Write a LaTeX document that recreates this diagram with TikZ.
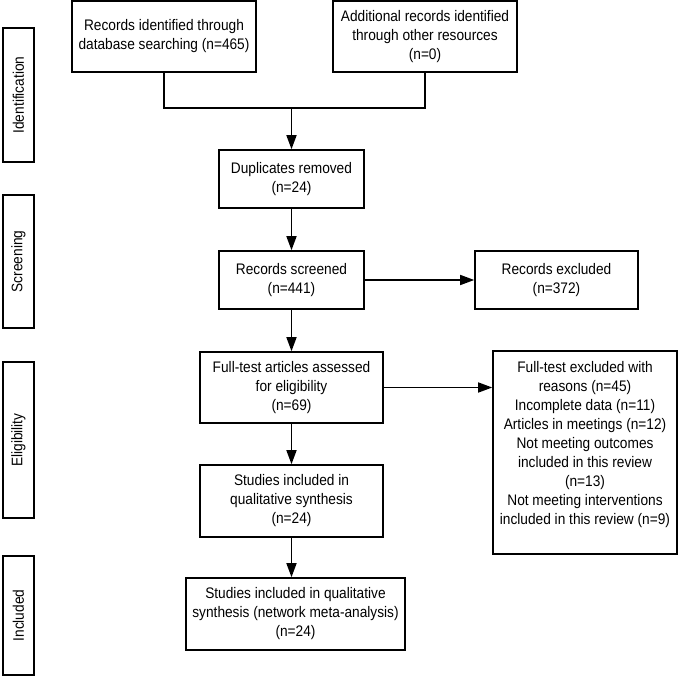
\documentclass[tikz,border=0pt]{standalone}
\usepackage{fontspec}
\setmainfont{Liberation Sans}[FakeStretch=0.895]
\usetikzlibrary{arrows.meta}
\begin{document}
\begin{tikzpicture}[x=1pt,y=-1pt,
  box/.style={draw, line width=1.6pt, inner sep=0pt, align=center,
    font=\fontsize{15.3}{19}\selectfont},
  phase/.style={box, rotate=90, minimum height=31pt},
  arr/.style={line width=1.6pt, -{Triangle[length=14pt,width=10pt]}},
  ln/.style={line width=1.6pt}]
\useasboundingbox (0,0) rectangle (680,676);
% phase labels
\node[phase, minimum width=134pt] (pid) at (18.5,95) {Identification};
\node[phase, minimum width=133pt] (psc) at (18.5,261.5) {Screening};
\node[phase, minimum width=156pt] (pel) at (18.5,440) {Eligibility};
\node[phase, minimum width=119pt] (pin) at (18.5,615.5) {Included};
% boxes
\node[box, minimum width=184pt, minimum height=71pt] (rec) at (164,36.5)
  {Records identified through\\database searching (n=465)};
\node[box, minimum width=184pt, minimum height=71pt] (add) at (425,36.5)
  {Additional records identified\\through other resources\\(n=0)};
\node[box, minimum width=145pt, minimum height=58pt] (dup) at (291.5,179)
  {Duplicates removed\\(n=24)};
\node[box, minimum width=145pt, minimum height=58pt] (scr) at (291.5,280)
  {Records screened\\(n=441)};
\node[box, minimum width=163pt, minimum height=58pt] (exc) at (556.5,280)
  {Records excluded\\(n=372)};
\node[box, minimum width=183pt, minimum height=71pt] (full) at (291.5,387.5)
  {Full-test articles assessed\\for eligibility\\(n=69)};
\node[box, minimum width=184pt, minimum height=203pt] (fexc) at (585,452.5)
  {Full-test excluded with\\reasons (n=45)\\Incomplete data (n=11)\\Articles in meetings (n=12)\\Not meeting outcomes\\included in this review\\(n=13)\\Not meeting interventions\\included in this review (n=9)\\~};
\node[box, minimum width=183pt, minimum height=72pt] (stud) at (291.5,501)
  {Studies included in\\qualitative synthesis\\(n=24)};
\node[box, minimum width=219pt, minimum height=72pt] (incl) at (295.5,614)
  {Studies included in qualitative\\synthesis (network meta-analysis)\\(n=24)};
% connectors
\coordinate (j) at (291.5,108);
\draw[ln] (rec.south) -- (rec.south |- j) -- (add.south |- j) -- (add.south);
\draw[arr] (j) -- (dup.north);
\draw[arr] (dup) -- (scr);
\draw[arr] (scr) -- (exc);
\draw[arr] (scr) -- (full);
\draw[arr] (full.east) -- (full.east -| fexc.west);
\draw[arr] (full) -- (stud);
\draw[arr] (stud.south) -- (stud.south |- incl.north);
\end{tikzpicture}
\end{document}
